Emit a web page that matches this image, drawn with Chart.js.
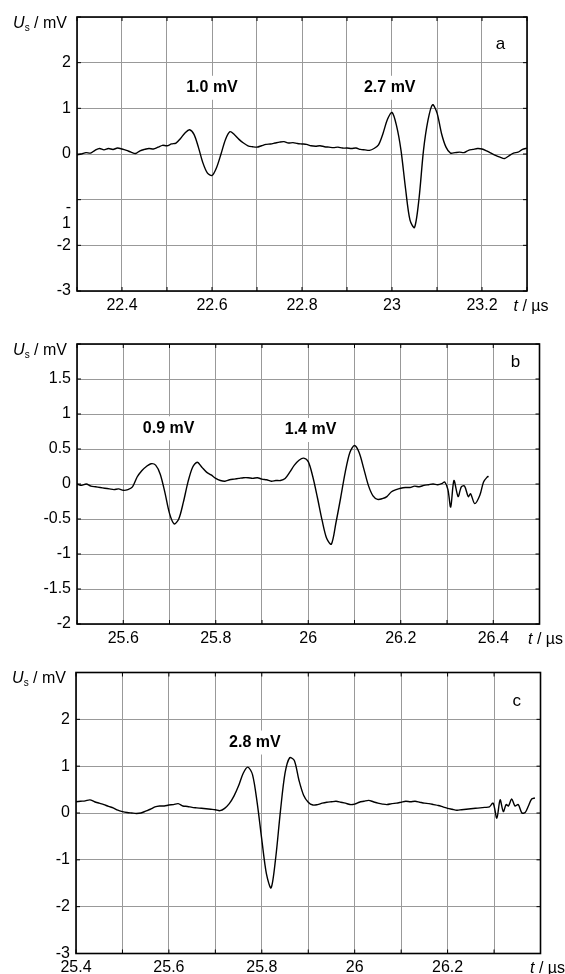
<!DOCTYPE html>
<html>
<head>
<meta charset="utf-8">
<script src="https://cdn.jsdelivr.net/npm/chart.js@4.4.1/dist/chart.umd.min.js"></script>
<style>
  html, body { margin: 0; padding: 0; background: #fff; }
  #wrap { position: relative; width: 565px; height: 974px; overflow: hidden; background: #fff; }
  canvas { position: absolute; left: 0; }
</style>
</head>
<body>
<div id="wrap">
  <canvas id="chartA" width="565" height="318" style="top:0px"></canvas>
  <canvas id="chartB" width="565" height="330" style="top:318px"></canvas>
  <canvas id="chartC" width="565" height="326" style="top:648px"></canvas>
</div>
<script>
// ---------------- DATA ----------------
// Panel a: time (µs) and signal (mV)
const timeA = [22.30,22.31,22.32,22.33,22.34,22.35,22.36,22.37,22.38,22.39,
  22.40,22.41,22.42,22.43,22.44,22.45,22.46,22.47,22.48,22.49,
  22.50,22.51,22.52,22.53,22.54,22.55,22.56,22.57,22.58,22.59,
  22.60,22.61,22.62,22.63,22.64,22.65,22.66,22.67,22.68,22.69,
  22.70,22.71,22.72,22.73,22.74,22.75,22.76,22.77,22.78,22.79,
  22.80,22.81,22.82,22.83,22.84,22.85,22.86,22.87,22.88,22.89,
  22.90,22.91,22.92,22.93,22.94,22.95,22.96,22.97,22.98,22.99,
  23.00,23.01,23.02,23.03,23.04,23.05,23.06,23.07,23.08,23.09,
  23.10,23.11,23.12,23.13,23.14,23.15,23.16,23.17,23.18,23.19,
  23.20,23.21,23.22,23.23,23.24,23.25,23.26,23.27,23.28,23.29,23.30];
const signalA = [-0.02,0.00,0.03,0.02,0.08,0.12,0.09,0.12,0.10,0.13,
  0.11,0.08,0.04,0.01,0.07,0.10,0.12,0.11,0.15,0.19,
  0.18,0.22,0.24,0.34,0.46,0.53,0.43,0.14,-0.20,-0.42,
  -0.47,-0.30,0.00,0.32,0.49,0.42,0.32,0.24,0.18,0.16,
  0.15,0.18,0.21,0.22,0.24,0.26,0.27,0.24,0.25,0.23,
  0.22,0.21,0.18,0.17,0.18,0.16,0.15,0.14,0.15,0.13,
  0.13,0.12,0.13,0.10,0.09,0.08,0.12,0.20,0.45,0.76,
  0.91,0.62,0.08,-0.75,-1.45,-1.61,-0.98,0.08,0.74,1.08,
  0.90,0.45,0.15,0.02,0.03,0.04,0.03,0.08,0.10,0.12,
  0.11,0.07,0.02,-0.03,-0.07,-0.10,-0.04,0.02,0.04,0.10,0.13];

// Panel b
const timeB = [25.50,25.51,25.52,25.53,25.54,25.55,25.56,25.57,25.58,25.59,
  25.60,25.61,25.62,25.63,25.64,25.65,25.66,25.67,25.68,25.69,
  25.70,25.71,25.72,25.73,25.74,25.75,25.76,25.77,25.78,25.79,
  25.80,25.81,25.82,25.83,25.84,25.85,25.86,25.87,25.88,25.89,
  25.90,25.91,25.92,25.93,25.94,25.95,25.96,25.97,25.98,25.99,
  26.00,26.01,26.02,26.03,26.04,26.05,26.06,26.07,26.08,26.09,
  26.10,26.11,26.12,26.13,26.14,26.15,26.16,26.17,26.18,26.19,
  26.20,26.21,26.22,26.23,26.24,26.25,26.26,26.27,26.28,26.29,
  26.295,26.302,26.308,26.315,26.324,26.331,26.338,26.346,26.351,26.360,
  26.371,26.379,26.387,26.390];
const signalB = [0.00,-0.02,0.00,-0.03,-0.04,-0.05,-0.06,-0.07,-0.08,-0.07,
  -0.09,-0.08,-0.04,0.10,0.19,0.25,0.29,0.27,0.14,-0.12,
  -0.42,-0.57,-0.50,-0.26,0.03,0.24,0.31,0.24,0.17,0.13,
  0.08,0.05,0.04,0.06,0.07,0.08,0.09,0.09,0.08,0.09,
  0.07,0.06,0.04,0.05,0.05,0.08,0.17,0.27,0.34,0.37,
  0.32,0.10,-0.20,-0.52,-0.78,-0.86,-0.55,-0.20,0.17,0.45,
  0.55,0.45,0.22,-0.02,-0.17,-0.22,-0.21,-0.18,-0.11,-0.08,
  -0.06,-0.05,-0.05,-0.03,-0.04,-0.02,-0.01,0.00,-0.01,0.01,
  0.03,-0.08,-0.33,0.05,-0.18,-0.04,-0.03,-0.18,-0.14,-0.28,
  -0.16,0.03,0.10,0.11];

// Panel c
const timeC = [25.40,25.41,25.42,25.43,25.44,25.45,25.46,25.47,25.48,25.49,
  25.50,25.51,25.52,25.53,25.54,25.55,25.56,25.57,25.58,25.59,
  25.60,25.61,25.62,25.63,25.64,25.65,25.66,25.67,25.68,25.69,
  25.70,25.71,25.72,25.73,25.74,25.75,25.76,25.77,25.78,25.79,
  25.80,25.81,25.82,25.83,25.84,25.85,25.86,25.87,25.88,25.89,
  25.90,25.91,25.92,25.93,25.94,25.95,25.96,25.97,25.98,25.99,
  26.00,26.01,26.02,26.03,26.04,26.05,26.06,26.07,26.08,26.09,
  26.10,26.11,26.12,26.13,26.14,26.15,26.16,26.17,26.18,26.19,
  26.20,26.21,26.22,26.23,26.24,26.25,26.26,26.27,26.28,26.29,
  26.298,26.306,26.313,26.320,26.326,26.331,26.338,26.345,26.352,26.360,
  26.367,26.374,26.381,26.388];
const signalC = [0.24,0.25,0.26,0.28,0.24,0.21,0.18,0.14,0.11,0.06,
  0.03,0.01,0.00,-0.01,0.00,0.04,0.08,0.13,0.15,0.15,
  0.17,0.18,0.20,0.15,0.14,0.12,0.11,0.10,0.09,0.08,
  0.07,0.05,0.10,0.20,0.36,0.58,0.85,0.98,0.82,0.22,
  -0.57,-1.30,-1.60,-0.95,0.03,0.85,1.18,1.12,0.70,0.38,
  0.23,0.17,0.18,0.21,0.23,0.24,0.25,0.23,0.21,0.18,
  0.19,0.23,0.25,0.27,0.24,0.21,0.19,0.18,0.20,0.21,
  0.23,0.25,0.24,0.25,0.23,0.21,0.20,0.18,0.16,0.13,
  0.10,0.08,0.06,0.07,0.08,0.09,0.10,0.11,0.12,0.13,
  0.21,-0.11,0.28,0.03,0.18,0.15,0.30,0.15,0.18,0.00,
  0.01,0.15,0.30,0.32];

// Grid / tick values and tick labels
const xGridA = [22.3,22.4,22.5,22.6,22.7,22.8,22.9,23.0,23.1,23.2,23.3];
const xLabelsA = ['22.4','22.6','22.8','23','23.2'];
const yGridA = [-3,-2,-1,0,1,2,3];
const yLabelsA = ['-3','-2','-1','0','1','2'];

const xGridB = [25.5,25.6,25.7,25.8,25.9,26.0,26.1,26.2,26.3,26.4,26.5];
const xLabelsB = ['25.6','25.8','26','26.2','26.4'];
const yGridB = [-2,-1.5,-1,-0.5,0,0.5,1,1.5,2];
const yLabelsB = ['-2','-1.5','-1','-0.5','0','0.5','1','1.5'];

const xGridC = [25.4,25.5,25.6,25.7,25.8,25.9,26.0,26.1,26.2,26.3,26.4];
const xLabelsC = ['25.4','25.6','25.8','26','26.2'];
const yGridC = [-3,-2,-1,0,1,2,3];
const yLabelsC = ['-3','-2','-1','0','1','2'];

// Annotation texts
const notesA = ['1.0 mV', '2.7 mV'];
const notesB = ['0.9 mV', '1.4 mV'];
const notesC = ['2.8 mV'];

// ---------------- RENDERING ----------------
const FONT = '"Liberation Sans", Arial, Helvetica, sans-serif';
const fmt = v => String(parseFloat(Number(v).toFixed(2)));

const decorPlugin = {
  id: 'decor',
  beforeDatasetsDraw(chart, args, o) {
    const ctx = chart.ctx, a = chart.chartArea, x = chart.scales.x, y = chart.scales.y;
    ctx.save();
    // annotation labels with white backgrounds
    ctx.font = 'bold 16px ' + FONT;
    ctx.textAlign = 'center';
    ctx.textBaseline = 'middle';
    o.notes.forEach(n => {
      const px = x.getPixelForValue(n.t), py = y.getPixelForValue(n.v);
      const w = ctx.measureText(n.text).width;
      ctx.fillStyle = '#fff';
      ctx.fillRect(px - w / 2 - 4, py - 12, w + 8, 24);
      ctx.fillStyle = '#000';
      ctx.fillText(n.text, px, py);
    });
    // panel letter
    ctx.font = '17px ' + FONT;
    ctx.fillText(o.letter.text, x.getPixelForValue(o.letter.t), y.getPixelForValue(o.letter.v));
    // frame
    ctx.strokeStyle = '#000';
    ctx.lineWidth = 1.6;
    ctx.strokeRect(a.left, a.top, a.right - a.left, a.bottom - a.top);
    // inward tick marks
    ctx.lineWidth = 1;
    ctx.beginPath();
    x.ticks.forEach(t => {
      const p = x.getPixelForValue(t.value);
      ctx.moveTo(p, a.bottom); ctx.lineTo(p, a.bottom - 4);
      ctx.moveTo(p, a.top); ctx.lineTo(p, a.top + 4);
    });
    y.ticks.forEach(t => {
      const p = y.getPixelForValue(t.value);
      ctx.moveTo(a.left, p); ctx.lineTo(a.left + 4, p);
      ctx.moveTo(a.right, p); ctx.lineTo(a.right - 4, p);
    });
    ctx.stroke();
    // y-axis title: U_s / mV (right-aligned left of the plot)
    ctx.textAlign = 'left';
    ctx.textBaseline = 'alphabetic';
    const partsY = [
      { t: 'U', f: 'italic 16px ' + FONT, dy: 0 },
      { t: 's', f: '10px ' + FONT, dy: 3 },
      { t: ' / mV', f: '16px ' + FONT, dy: 0 }
    ];
    let tw = 0;
    partsY.forEach(p => { ctx.font = p.f; p.w = ctx.measureText(p.t).width; tw += p.w; });
    let cx = a.left - 10 - tw;
    const by = a.top + 10.5;
    partsY.forEach(p => { ctx.font = p.f; ctx.fillText(p.t, cx, by + p.dy); cx += p.w; });
    // x-axis title: t / µs
    const bx = a.bottom + o.xPad + 9.6 + 5.7;
    let sx = a.right - o.xTitleDx;
    ctx.font = 'italic 16px ' + FONT;
    ctx.fillText('t', sx, bx);
    sx += ctx.measureText('t').width;
    ctx.font = '16px ' + FONT;
    ctx.fillText(' / µs', sx, bx);
    ctx.restore();
  }
};

function makeChart(id, cfg) {
  const pts = cfg.time.map((t, i) => ({ x: t, y: cfg.signal[i] }));
  return new Chart(document.getElementById(id), {
    type: 'line',
    data: {
      datasets: [{
        data: pts,
        borderColor: '#000',
        borderWidth: 1.4,
        pointRadius: 0,
        fill: false,
        tension: 0.3
      }]
    },
    options: {
      responsive: false,
      animation: false,
      devicePixelRatio: 1,
      layout: { padding: { top: cfg.padTop, right: cfg.padRight, left: 0, bottom: 0 } },
      plugins: {
        legend: { display: false },
        tooltip: { enabled: false },
        decor: { notes: cfg.notes, letter: cfg.letter, xPad: cfg.xPad, xTitleDx: cfg.xTitleDx }
      },
      scales: {
        x: {
          type: 'linear',
          min: cfg.xGrid[0],
          max: cfg.xGrid[cfg.xGrid.length - 1],
          afterBuildTicks: s => { s.ticks = cfg.xGrid.map(v => ({ value: v })); },
          afterFit: s => { s.height = cfg.xAxisH; },
          grid: { color: '#999', lineWidth: 1, drawTicks: false },
          border: { display: false },
          ticks: {
            autoSkip: false, maxRotation: 0, minRotation: 0,
            padding: cfg.xPad, color: '#000',
            font: { family: FONT, size: 16 },
            callback: v => { const s = fmt(v); return cfg.xLabels.includes(s) ? s : ''; }
          }
        },
        y: {
          type: 'linear',
          min: cfg.yGrid[0],
          max: cfg.yGrid[cfg.yGrid.length - 1],
          afterBuildTicks: s => { s.ticks = cfg.yGrid.map(v => ({ value: v })); },
          afterFit: s => { s.width = cfg.yAxisW; },
          grid: { color: '#999', lineWidth: 1, drawTicks: false },
          border: { display: false },
          ticks: {
            autoSkip: false, padding: 6, color: '#000',
            font: { family: FONT, size: 16, lineHeight: 1.0 },
            callback: v => {
              const s = fmt(v);
              if (!cfg.yLabels.includes(s)) return '';
              if (s === cfg.yBroken) return ['', '', '-', s.slice(1)];
              return s;
            }
          }
        }
      }
    },
    plugins: [decorPlugin]
  });
}

makeChart('chartA', {
  time: timeA, signal: signalA,
  xGrid: xGridA, xLabels: xLabelsA, yGrid: yGridA, yLabels: yLabelsA, yBroken: '-1',
  padTop: 17, padRight: 38, xAxisH: 27, yAxisW: 77, xPad: 5, xTitleDx: 13.5,
  notes: [{ text: notesA[0], t: 22.6, v: 1.45 }, { text: notesA[1], t: 22.995, v: 1.45 }],
  letter: { text: 'a', t: 23.241, v: 2.4 }
});
makeChart('chartB', {
  time: timeB, signal: signalB,
  xGrid: xGridB, xLabels: xLabelsB, yGrid: yGridB, yLabels: yLabelsB, yBroken: null,
  padTop: 26, padRight: 25.5, xAxisH: 24, yAxisW: 77, xPad: 5, xTitleDx: 11.5,
  notes: [{ text: notesB[0], t: 25.698, v: 0.796 }, { text: notesB[1], t: 26.005, v: 0.771 }],
  letter: { text: 'b', t: 26.448, v: 1.743 }
});
makeChart('chartC', {
  time: timeC, signal: signalC,
  xGrid: xGridC, xLabels: xLabelsC, yGrid: yGridC, yLabels: yLabelsC, yBroken: null,
  padTop: 24.5, padRight: 24.5, xAxisH: 20.5, yAxisW: 76, xPad: 4, xTitleDx: 10.5,
  notes: [{ text: notesC[0], t: 25.785, v: 1.505 }],
  letter: { text: 'c', t: 26.349, v: 2.39 }
});
</script>
</body>
</html>
